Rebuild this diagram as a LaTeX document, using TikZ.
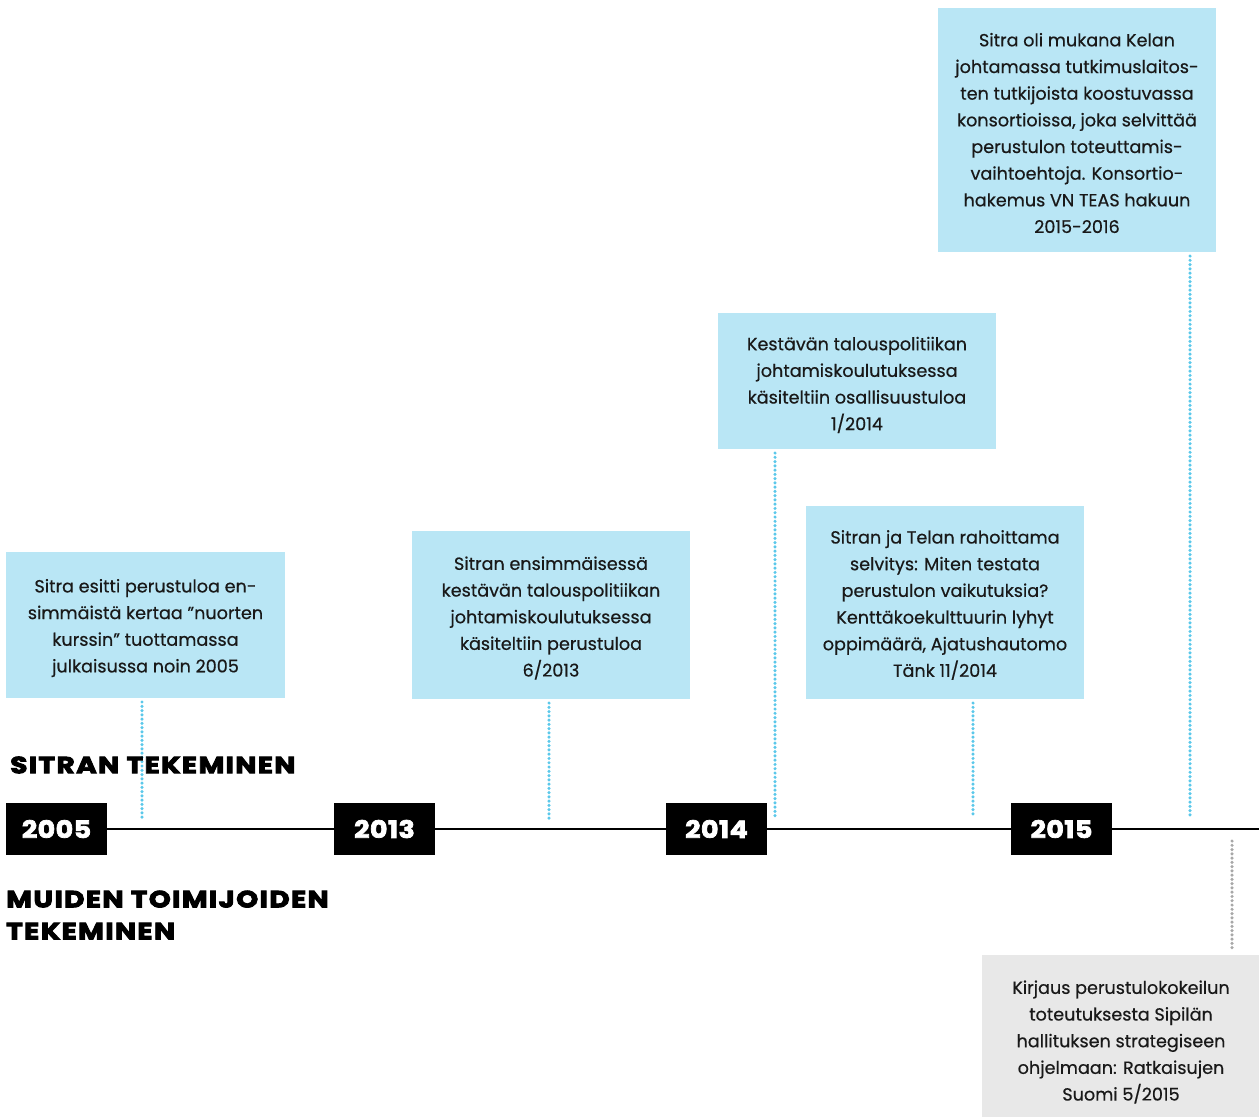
\documentclass[tikz,border=0pt]{standalone}
\usepackage{fontspec}
\setmainfont{Poppins}[UprightFeatures={FakeBold=0.5}]
\newfontfamily\headfont[LetterSpace=6,BoldFeatures={FakeBold=4,FakeStretch=1.2}]{Poppins}
\newfontfamily\yearfont[LetterSpace=2,BoldFeatures={FakeBold=3,FakeStretch=1.12}]{Poppins}
\definecolor{boxblue}{HTML}{B9E6F5}
\definecolor{dotblue}{HTML}{5BC8EA}
\definecolor{boxgray}{HTML}{E8E8E8}
\definecolor{dotgray}{HTML}{A8A8A8}
\begin{document}
\begin{tikzpicture}[x=0.75pt,y=-0.75pt,
  evbox/.style={fill=none,draw=none,inner sep=0pt,align=center,font=\fontsize{13.2}{20}\selectfont,text=black!90},
  yearbox/.style={fill=black,text=white,minimum width=75.75pt,minimum height=39pt,inner sep=0pt,font=\yearfont\bfseries\fontsize{18}{18}\selectfont},
  heading/.style={anchor=west,inner sep=0pt,align=left,font=\headfont\bfseries\fontsize{17.5}{24}\selectfont},
  dots/.style={draw=dotblue,line width=2.6pt,line cap=round,dash pattern=on 0pt off 3.2pt},
  graydots/.style={dots,draw=dotgray}
]
\useasboundingbox (0,0) rectangle (1259,1117);
% event boxes
\fill[boxblue] (6,552) rectangle (285,698);
\node[evbox] (a) at (145.5,628) {Sitra esitti perustuloa en-\\simmäistä kertaa "nuorten\\kurssin" tuottamassa\\julkaisussa noin 2005};
\fill[boxblue] (412,531) rectangle (690,699);
\node[evbox] (b) at (551,618) {Sitran ensimmäisessä\\kestävän talouspolitiikan\\johtamiskoulutuksessa\\käsiteltiin perustuloa\\6/2013};
\fill[boxblue] (718,313) rectangle (996,449);
\node[evbox] (c) at (857,385) {Kestävän talouspolitiikan\\johtamiskoulutuksessa\\käsiteltiin osallisuustuloa\\1/2014};
\fill[boxblue] (806,506) rectangle (1084,699);
\node[evbox] (d) at (945,605) {Sitran ja Telan rahoittama\\selvitys: Miten testata\\perustulon vaikutuksia?\\Kenttäkoekulttuurin lyhyt\\oppimäärä, Ajatushautomo\\Tänk 11/2014};
\fill[boxblue] (938,8) rectangle (1216,252);
\node[evbox] (e) at (1077,133) {Sitra oli mukana Kelan\\johtamassa tutkimuslaitos-\\ten tutkijoista koostuvassa\\konsortioissa, joka selvittää\\perustulon toteuttamis-\\vaihtoehtoja. Konsortio-\\hakemus VN TEAS hakuun\\2015-2016};
\fill[boxgray] (982,955) rectangle (1259,1117);
\node[evbox] (f) at (1121,1042) {Kirjaus perustulokokeilun\\toteutuksesta Sipilän\\hallituksen strategiseen\\ohjelmaan: Ratkaisujen\\Suomi 5/2015};
% timeline
\coordinate (tend) at (1259,829);
\node[yearbox] (y2005) at (56.5,829) {2005};
\node[yearbox] (y2013) at (384.5,829) {2013};
\node[yearbox] (y2014) at (716.5,829) {2014};
\node[yearbox] (y2015) at (1061.5,829) {2015};
\draw[line width=1.5*0.75pt] (y2005.east) -- (y2013.west) (y2013.east) -- (y2014.west) (y2014.east) -- (y2015.west) (y2015.east) -- (tend);
% dotted connectors
\coordinate (ea) at (142,702); \coordinate (ta) at (142,819);
\coordinate (eb) at (549,703); \coordinate (tb) at (549,819);
\coordinate (ec) at (775,453); \coordinate (tc) at (775,819);
\coordinate (ed) at (973,703); \coordinate (td) at (973,818);
\coordinate (ee) at (1190,256); \coordinate (te) at (1190,818);
\coordinate (ef) at (1232,951); \coordinate (tf) at (1232,841);
\draw[dots] (ea) -- (ta);
\draw[dots] (eb) -- (tb);
\draw[dots] (ec) -- (tc);
\draw[dots] (ed) -- (td);
\draw[dots] (ee) -- (te);
\draw[graydots] (tf) -- (ef);
% headings
\node[heading] (h1) at (10,765) {SITRAN TEKEMINEN};
\node[heading] (h2) at (6,915) {MUIDEN TOIMIJOIDEN\\TEKEMINEN};
\end{tikzpicture}
\end{document}
